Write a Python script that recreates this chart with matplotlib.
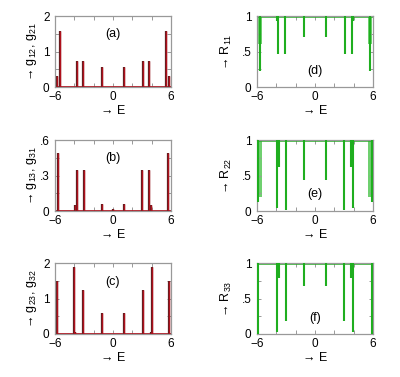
import matplotlib
matplotlib.use('Agg')
import matplotlib.pyplot as plt
from matplotlib.ticker import FixedLocator, FixedFormatter

plt.rcParams['font.family'] = ['Liberation Sans', 'DejaVu Sans']
plt.rcParams['mathtext.default'] = 'regular'

# ---------------- data ----------------
E_a = [-5.78, -5.52, -3.72, -3.12, -1.10, 1.10, 3.12, 3.72, 5.52, 5.78]
g_a = [0.30, 1.57, 0.72, 0.72, 0.55, 0.55, 0.72, 0.72, 1.57, 0.30]

E_b = [-5.65, -3.88, -3.70, -3.02, -1.10, 0.00, 1.10, 3.02, 3.70, 3.88, 5.65]
g_b = [0.49, 0.05, 0.35, 0.35, 0.06, 0.015, 0.06, 0.35, 0.35, 0.05, 0.49]

E_c = [-5.82, -4.00, -3.90, -3.10, -1.10, 1.10, 3.10, 3.90, 4.00, 5.82]
g_c = [1.48, 1.88, 0.07, 1.24, 0.58, 0.58, 1.24, 0.07, 1.88, 1.48]

E_d = [-5.72, -3.95, -3.78, -3.12, -1.10, 1.10, 3.12, 3.78, 3.95, 5.72]
R_d = [0.22, 0.93, 0.47, 0.47, 0.70, 0.70, 0.47, 0.47, 0.93, 0.22]
band_d = [(-5.92, -5.50, 0.60), (5.50, 5.92, 0.60)]

E_e = [-5.85, -3.92, -3.75, -3.00, -1.10, 1.10, 3.00, 3.75, 3.92, 5.85]
R_e = [0.12, 0.04, 0.62, 0.01, 0.44, 0.44, 0.01, 0.62, 0.04, 0.12]
band_e = [(-5.95, -5.50, 0.20), (5.50, 5.95, 0.20)]

E_f = [-5.88, -3.92, -3.75, -3.05, -1.10, 1.10, 3.05, 3.75, 3.92, 5.88]
R_f = [0.00, 0.03, 0.79, 0.19, 0.68, 0.68, 0.19, 0.79, 0.03, 0.00]
band_f = []

x_ticks = [-6, -4, -2, 0, 2, 4, 6]
x_labels = ['\u22126', '', '', '0', '', '', '6']

# ---------------- figure ----------------
fig = plt.figure(figsize=(4.0, 3.77), dpi=100)

L_left, L_right, W = 55 / 400, 257 / 400, 116 / 400
rows = [(87, 16), (211, 140), (334, 263)]  # bottom, top pixel
H = 71 / 377

RED = '#b0101c'
GREEN = '#1fae1f'
LGREEN = '#6fd06f'
FRAME = '#999999'
FS = 8.5


def style(ax, ymax, yticks, ylabels, ylabel, lx):
    ax.set_xlim(-6, 6)
    ax.set_ylim(0, ymax)
    ax.xaxis.set_major_locator(FixedLocator(x_ticks))
    ax.xaxis.set_major_formatter(FixedFormatter(x_labels))
    ax.yaxis.set_major_locator(FixedLocator(yticks))
    ax.yaxis.set_major_formatter(FixedFormatter(ylabels))
    ax.tick_params(direction='in', length=3, width=0.7, color=FRAME,
                   top=True, right=True, labelsize=FS)
    ax.tick_params(axis='x', pad=3)
    ax.tick_params(axis='y', pad=4)
    for s in ax.spines.values():
        s.set_color(FRAME)
        s.set_linewidth(0.9)
    ax.set_xlabel('\u2192 E', fontsize=FS + 0.5)
    ax.xaxis.set_label_coords(0.5, -0.34)
    ax.xaxis.label.set_va('center')
    ax.set_ylabel(ylabel, fontsize=FS + 0.5)
    ax.yaxis.set_label_coords(lx, 0.5)
    ax.yaxis.label.set_va('center')


g_panels = [
    (E_a, g_a, 2.0, [0, 0.5, 1, 1.5, 2], ['0', '', '1', '', '2'],
     '\u2192 g$_{12}$, g$_{21}$', '(a)', 0.75),
    (E_b, g_b, 0.6, [0, 0.15, 0.3, 0.45, 0.6], ['0', '', '.3', '', '.6'],
     '\u2192 g$_{13}$, g$_{31}$', '(b)', 0.75),
    (E_c, g_c, 2.0, [0, 0.5, 1, 1.5, 2], ['0', '', '1', '', '2'],
     '\u2192 g$_{23}$, g$_{32}$', '(c)', 0.73),
]
R_panels = [
    (E_d, R_d, band_d, '\u2192 R$_{11}$', '(d)', 0.225),
    (E_e, R_e, band_e, '\u2192 R$_{22}$', '(e)', 0.24),
    (E_f, R_f, band_f, '\u2192 R$_{33}$', '(f)', 0.22),
]

for i, (bot, top) in enumerate(rows):
    yb = 1 - bot / 377
    # left column: g
    E, g, ymax, yt, yl, ylab, tag, ty = g_panels[i]
    ax = fig.add_axes([L_left, yb, W, H])
    ax.plot([-6, 6], [0, 0], color=RED, lw=1.3, zorder=2)
    ax.vlines(E, 0, g, color='#5a2020', lw=1.6, zorder=2)
    ax.vlines(E, 0, g, color=RED, lw=1.0, zorder=3)
    style(ax, ymax, yt, yl, ylab, -0.2)
    ax.text(0.5, ty, tag, transform=ax.transAxes, ha='center', va='center',
            fontsize=FS + 0.5)

    # right column: R
    E, R, band, ylab, tag, ty = R_panels[i]
    ax = fig.add_axes([L_right, yb, W, H])
    for (x0, x1, lo) in band:
        ax.fill_between([x0, x1], [lo, lo], [1, 1], color=LGREEN, lw=0,
                        zorder=1)
    ax.plot([-6, 6], [1, 1], color=GREEN, lw=1.8, zorder=2)
    ax.vlines(E, R, 1, color=GREEN, lw=1.5, zorder=3)
    style(ax, 1.0, [0, 0.25, 0.5, 0.75, 1], ['0', '', '.5', '', '1'],
          ylab, -0.26)
    ax.text(0.5, ty, tag, transform=ax.transAxes, ha='center', va='center',
            fontsize=FS + 0.5)

fig.savefig('out.png', dpi=100)
